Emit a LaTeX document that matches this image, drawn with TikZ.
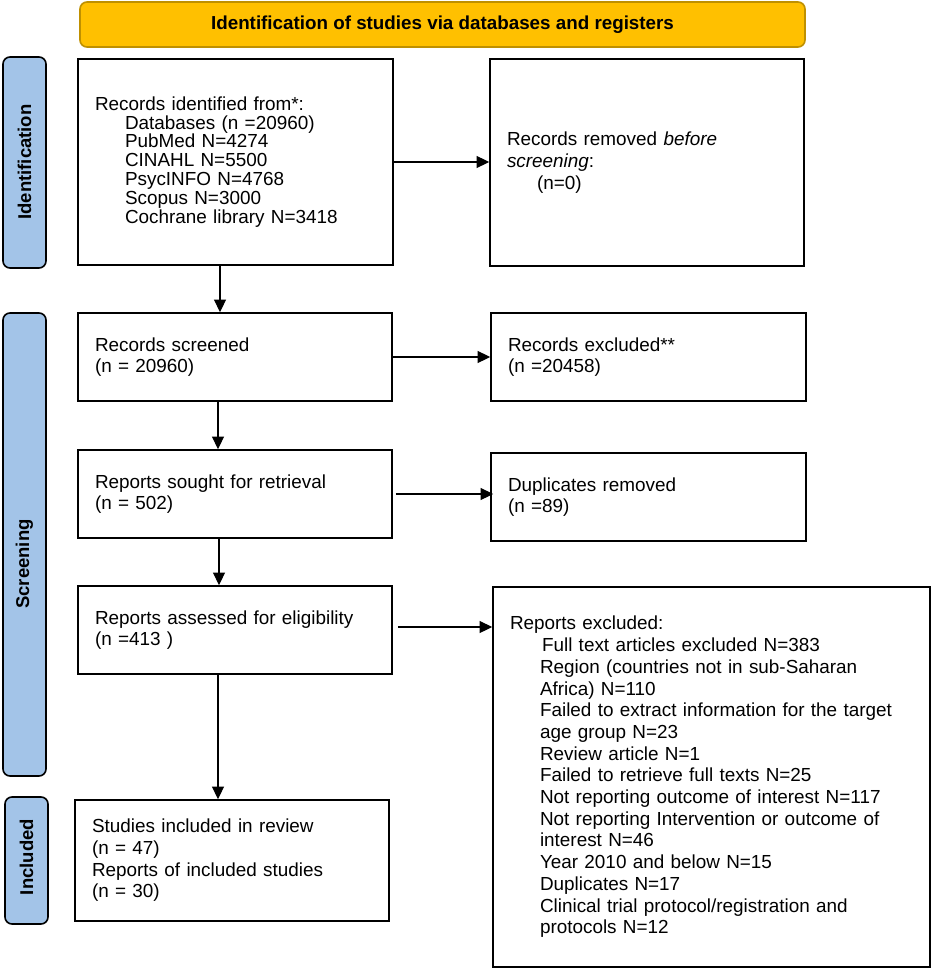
\documentclass[tikz,border=0pt]{standalone}
\usepackage{fontspec}
\setmainfont{Liberation Sans}
\usetikzlibrary{arrows.meta,calc}
\definecolor{bannerfill}{RGB}{255,192,0}
\definecolor{bannerdraw}{RGB}{191,144,0}
\definecolor{barfill}{RGB}{163,196,232}
\begin{document}
\begin{tikzpicture}[x=1pt,y=-1pt,
  box/.style={draw=black,line width=1.8pt,rectangle,align=left,inner xsep=17pt,inner ysep=0pt,
    font=\fontsize{18.9}{21.7}\selectfont},
  sidebar/.style={draw=black,line width=1.6pt,fill=barfill,rounded corners=7pt,minimum width=43pt},
  sidelabel/.style={font=\fontsize{18.5}{20}\selectfont\bfseries,rotate=90,inner sep=0pt},
  arr/.style={line width=1.3pt,-{Triangle[length=12.5pt,width=12pt]}}]
\useasboundingbox (0,0) rectangle (932,968);
% banner
\node[draw=bannerdraw,line width=1.6pt,fill=bannerfill,rounded corners=7pt,
  minimum width=725pt,minimum height=45pt,font=\fontsize{18.8}{20}\selectfont\bfseries]
  (banner) at (442.5,24.5) {Identification of studies via databases and registers};
% side bars
\node[sidebar,minimum height=211pt] (idbar) at (24.5,162.5) {};
\node[sidelabel] (idlab) at (24.5,162) {Identification};
\node[sidebar,minimum height=463pt] (scbar) at (24.5,544.5) {};
\node[sidelabel] (sclab) at (24.5,564) {Screening};
\node[sidebar,minimum height=127pt] (inbar) at (26.5,860.5) {};
\node[sidelabel] (inlab) at (26.5,857) {Included};
% boxes
\node[box,text width=281pt,minimum height=206pt,font=\fontsize{18.9}{18.9}\selectfont] (b1) at (235.5,162) {Records identified from*:\\
\hspace*{30pt}Databases (n =20960)\\
\hspace*{30pt}PubMed N=4274\\
\hspace*{30pt}CINAHL N=5500\\
\hspace*{30pt}PsycINFO N=4768\\
\hspace*{30pt}Scopus N=3000\\
\hspace*{30pt}Cochrane library N=3418};
\node[box,text width=280pt,minimum height=207pt] (b2) at (647,162.5) {Records removed \textit{before}\\
\textit{screening}:\\
\hspace*{30pt}(n=0)};
\node[box,text width=280pt,minimum height=88pt] (scr) at (235,357) {Records screened\\(n = 20960)};
\node[box,text width=281pt,minimum height=88pt] (excl) at (648.5,357) {Records excluded**\\(n =20458)};
\node[box,text width=280pt,minimum height=88pt] (sought) at (235,494) {Reports sought for retrieval\\(n = 502)};
\node[box,text width=281pt,minimum height=88pt] (dup) at (648.5,497) {Duplicates removed\\(n =89)};
\node[box,text width=280pt,minimum height=88pt] (ass) at (235,630) {Reports assessed for eligibility\\(n =413 )};
\node[box,text width=403pt,minimum height=380pt] (rex) at (711.5,777) {Reports excluded:\\
\hspace*{32pt}Full text articles excluded N=383\\
\hspace*{30pt}Region (countries not in sub-Saharan\\
\hspace*{30pt}Africa) N=110\\
\hspace*{30pt}Failed to extract information for the target\\
\hspace*{30pt}age group N=23\\
\hspace*{30pt}Review article N=1\\
\hspace*{30pt}Failed to retrieve full texts N=25\\
\hspace*{30pt}Not reporting outcome of interest N=117\\
\hspace*{30pt}Not reporting Intervention or outcome of\\
\hspace*{30pt}interest N=46\\
\hspace*{30pt}Year 2010 and below N=15\\
\hspace*{30pt}Duplicates N=17\\
\hspace*{30pt}Clinical trial protocol/registration and\\
\hspace*{30pt}protocols N=12};
\node[box,text width=280pt,minimum height=121pt] (incl) at (232,860.5) {Studies included in review\\(n = 47)\\Reports of included studies\\(n = 30)};
% connectors
\draw[arr] (b1.east) -- (b1.east -| b2.west);
\draw[arr] ([xshift=-15.5pt]b1.south) -- ([xshift=-15.5pt]b1.south |- scr.north);
\draw[arr] (scr.east) -- (scr.east -| excl.west);
\draw[arr] ([xshift=-17pt]scr.south) -- ([xshift=-17pt]scr.south |- sought.north);
\draw[arr] ([xshift=3pt]sought.east) -- ([xshift=3pt]sought.east -| dup.west);
\draw[arr] ([xshift=-16pt]sought.south) -- ([xshift=-16pt]sought.south |- ass.north);
\draw[arr] ([xshift=5pt,yshift=3pt]ass.east) -- ([yshift=3pt]ass.east -| rex.west);
\draw[arr] ([xshift=-17pt]ass.south) -- ([xshift=-17pt]ass.south |- incl.north);
\end{tikzpicture}
\end{document}
